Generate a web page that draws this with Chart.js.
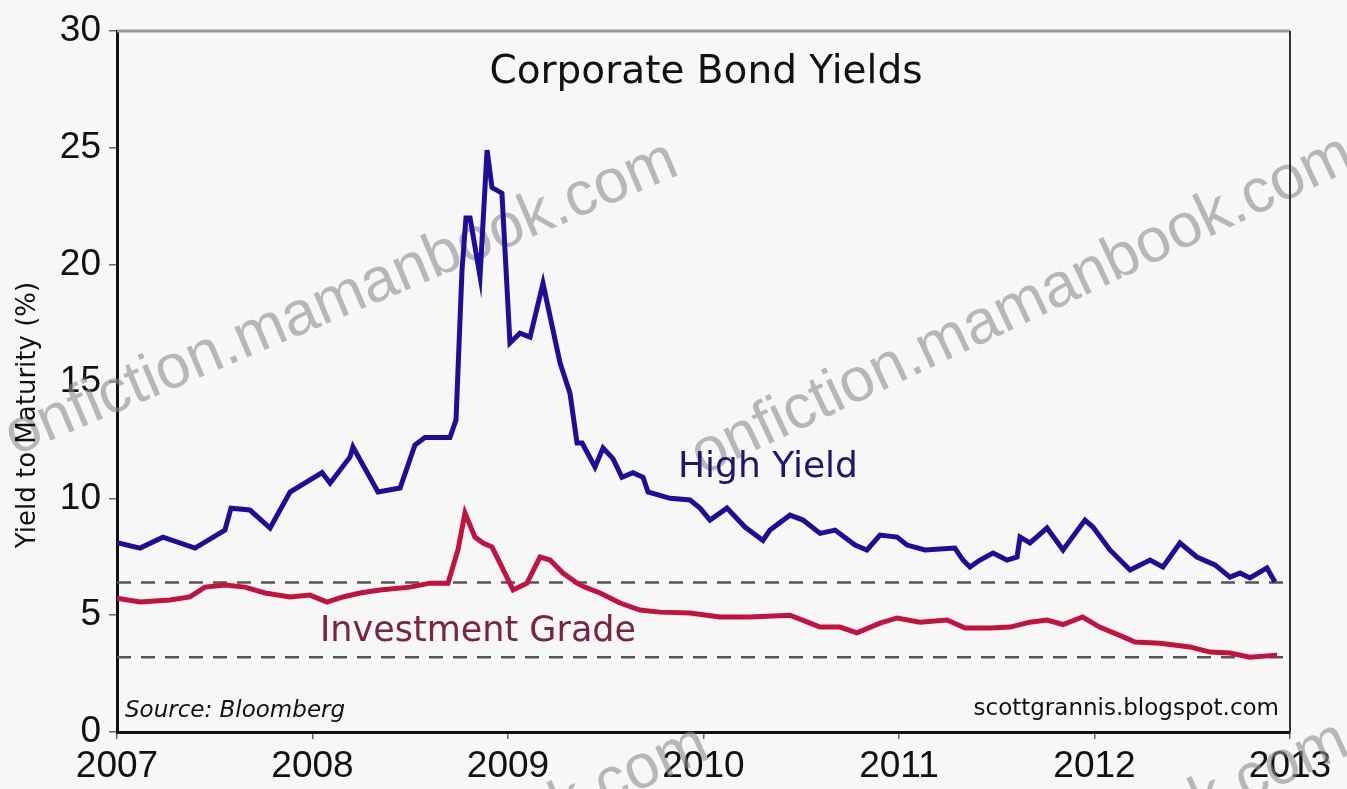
<!DOCTYPE html>
<html><head><meta charset="utf-8">
<script src="https://cdn.jsdelivr.net/npm/chart.js@4"></script>
<style>html,body{margin:0;padding:0;background:#f7f7f7;overflow:hidden}</style>
</head><body>
<canvas id="c" width="1347" height="789"></canvas>
<script>
// ---- data (decimal years, yield %) ----
const hyYears = [2007.000,2007.118,2007.235,2007.399,2007.552,2007.583,2007.680,2007.783,2007.885,2008.049,2008.090,2008.192,2008.207,2008.335,2008.448,2008.524,2008.575,2008.703,2008.734,2008.765,2008.785,2008.806,2008.857,2008.893,2008.918,2008.969,2009.010,2009.061,2009.113,2009.179,2009.266,2009.317,2009.353,2009.379,2009.445,2009.486,2009.537,2009.583,2009.639,2009.691,2009.716,2009.829,2009.931,2009.982,2010.033,2010.120,2010.212,2010.304,2010.340,2010.442,2010.509,2010.596,2010.673,2010.775,2010.836,2010.903,2010.990,2011.041,2011.133,2011.286,2011.327,2011.363,2011.414,2011.481,2011.552,2011.604,2011.619,2011.670,2011.757,2011.839,2011.951,2011.992,2012.079,2012.182,2012.284,2012.350,2012.437,2012.524,2012.616,2012.693,2012.744,2012.795,2012.882,2012.923];
const hyValues = [8.10,7.87,8.34,7.87,8.64,9.58,9.50,8.73,10.27,11.10,10.65,11.77,12.20,10.27,10.44,12.28,12.60,12.60,13.35,19.80,22.00,22.00,19.50,24.90,23.30,23.06,16.65,17.07,16.90,19.20,15.80,14.50,12.37,12.37,11.34,12.15,11.70,10.90,11.10,10.90,10.27,10.00,9.93,9.58,9.07,9.58,8.77,8.20,8.64,9.28,9.07,8.50,8.64,8.00,7.79,8.43,8.34,8.00,7.79,7.87,7.36,7.06,7.36,7.66,7.36,7.49,8.34,8.09,8.73,7.79,9.07,8.77,7.79,6.93,7.36,7.06,8.09,7.49,7.15,6.63,6.80,6.59,7.02,6.42];
const igYears = [2007.000,2007.118,2007.271,2007.373,2007.450,2007.552,2007.655,2007.757,2007.885,2007.987,2008.074,2008.156,2008.243,2008.345,2008.499,2008.601,2008.693,2008.744,2008.780,2008.831,2008.872,2008.918,2008.959,2009.026,2009.097,2009.164,2009.215,2009.281,2009.353,2009.394,2009.471,2009.573,2009.675,2009.777,2009.931,2010.084,2010.238,2010.442,2010.545,2010.596,2010.698,2010.785,2010.903,2010.990,2011.107,2011.246,2011.338,2011.465,2011.568,2011.670,2011.757,2011.839,2011.939,2012.026,2012.153,2012.207,2012.335,2012.488,2012.591,2012.693,2012.795,2012.934];
const igValues = [5.73,5.56,5.65,5.78,6.20,6.29,6.20,5.95,5.78,5.86,5.56,5.78,5.95,6.08,6.20,6.37,6.37,7.79,9.37,8.34,8.09,7.92,7.23,6.08,6.37,7.49,7.36,6.80,6.37,6.20,5.95,5.52,5.22,5.13,5.09,4.92,4.92,5.00,4.66,4.49,4.49,4.24,4.66,4.88,4.70,4.79,4.45,4.45,4.49,4.70,4.79,4.60,4.92,4.49,4.05,3.85,3.80,3.64,3.42,3.38,3.20,3.29];
const finalLevels = [6.4, 3.2];          // dashed reference lines
const xRange = [2007, 2013];
const yRange = [0, 30];
const yStep = 5;

const toPts = (xs, ys) => xs.map((x, i) => ({x, y: ys[i]}));

const deco = {
  id: 'deco',
  beforeDraw(chart) {
    const {ctx} = chart;
    ctx.save(); ctx.fillStyle = '#f7f7f7'; ctx.fillRect(0, 0, chart.width, chart.height); ctx.restore();
  },
  beforeDatasetsDraw(chart) {
    const {ctx} = chart;
    ctx.save();
    ctx.font = '62px "Liberation Sans", Arial, sans-serif';
    ctx.fillStyle = 'rgba(140,140,140,0.6)';
    ctx.textBaseline = 'middle';
    const marks = [
      {x: 8, y: 440, a: -0.40, align: 'left'},
      {x: 695, y: 460, a: -0.44, align: 'left'},
      {x: 705, y: 742, a: -0.42, align: 'right'},
      {x: 1345, y: 738, a: -0.42, align: 'right'}
    ];
    marks.forEach(m => {
      ctx.save(); ctx.translate(m.x, m.y); ctx.rotate(m.a);
      ctx.textAlign = m.align; ctx.fillText('onfiction.mamanbook.com', 0, 0);
      ctx.restore();
    });
    ctx.restore();
  },
  afterDatasetsDraw(chart) {
    const {ctx, chartArea: ca} = chart;
    ctx.save();
    ctx.textBaseline = 'middle';
    ctx.textAlign = 'center';
    ctx.fillStyle = '#111';
    ctx.font = '39px "DejaVu Sans", sans-serif';
    ctx.fillText('Corporate Bond Yields', 706, 73);
    // y-axis title
    ctx.save();
    ctx.translate(28, 415); ctx.rotate(-Math.PI / 2);
    ctx.font = '26px "DejaVu Sans", sans-serif';
    ctx.fillText('Yield to Maturity (%)', 0, 0);
    ctx.restore();
    ctx.font = '36px "DejaVu Sans", sans-serif';
    ctx.fillStyle = '#1c1670';
    ctx.textAlign = 'left';
    ctx.fillText('High Yield', 678, 468);
    ctx.fillStyle = '#7a2440';
    ctx.font = '35px "DejaVu Sans", sans-serif';
    ctx.fillText('Investment Grade', 320, 632);
    ctx.fillStyle = '#111';
    ctx.font = 'oblique 23px "DejaVu Sans", sans-serif';
    ctx.fillText('Source: Bloomberg', 125, 711);
    ctx.textAlign = 'right';
    ctx.font = '23px "DejaVu Sans", sans-serif';
    ctx.fillText('scottgrannis.blogspot.com', 1279, 709);
    // top & right frame
    ctx.strokeStyle = '#9a9a9a'; ctx.lineWidth = 3;
    ctx.beginPath(); ctx.moveTo(ca.left, ca.top); ctx.lineTo(ca.right, ca.top); ctx.stroke();
    ctx.strokeStyle = '#333'; ctx.lineWidth = 2;
    ctx.beginPath(); ctx.moveTo(ca.right, ca.top); ctx.lineTo(ca.right, ca.bottom); ctx.stroke();
    ctx.restore();
  }
};

new Chart(document.getElementById('c'), {
  type: 'line',
  data: {
    datasets: [
      {label: 'HY final', data: [{x: xRange[0], y: finalLevels[0]}, {x: xRange[1], y: finalLevels[0]}], borderColor: '#555', borderWidth: 2.5, borderDash: [14, 10], pointRadius: 0, order: 3},
      {label: 'IG final', data: [{x: xRange[0], y: finalLevels[1]}, {x: xRange[1], y: finalLevels[1]}], borderColor: '#555', borderWidth: 2.5, borderDash: [14, 10], pointRadius: 0, order: 3},
      {label: 'High Yield', data: toPts(hyYears, hyValues), borderColor: '#1d0e9a', borderWidth: 5, pointRadius: 0, tension: 0, order: 1},
      {label: 'Investment Grade', data: toPts(igYears, igValues), borderColor: '#c4123f', borderWidth: 5, pointRadius: 0, tension: 0, order: 2}
    ]
  },
  options: {
    responsive: false,
    animation: false,
    devicePixelRatio: 1,
    layout: {padding: {top: 31, right: 57, left: 0, bottom: 0}},
    plugins: {legend: {display: false}, tooltip: {enabled: false}},
    scales: {
      x: {
        type: 'linear', min: xRange[0], max: xRange[1],
        afterFit: s => { s.height = 57; },
        ticks: {stepSize: 1, callback: v => String(v), color: '#111', font: {family: '"Liberation Sans", Arial, sans-serif', size: 37}, padding: 6, maxRotation: 0, autoSkip: false},
        grid: {display: true, drawOnChartArea: false, drawTicks: true, tickLength: 7, color: '#666', lineWidth: 1.5},
        border: {display: true, color: '#111', width: 3}
      },
      y: {
        min: yRange[0], max: yRange[1],
        afterFit: s => { s.width = 117; },
        ticks: {stepSize: yStep, color: '#111', font: {family: '"Liberation Sans", Arial, sans-serif', size: 37}, padding: 8},
        grid: {display: true, drawOnChartArea: false, drawTicks: true, tickLength: 8, color: '#666', lineWidth: 1.5},
        border: {display: true, color: '#111', width: 3}
      }
    }
  },
  plugins: [deco]
});
</script>
</body></html>
